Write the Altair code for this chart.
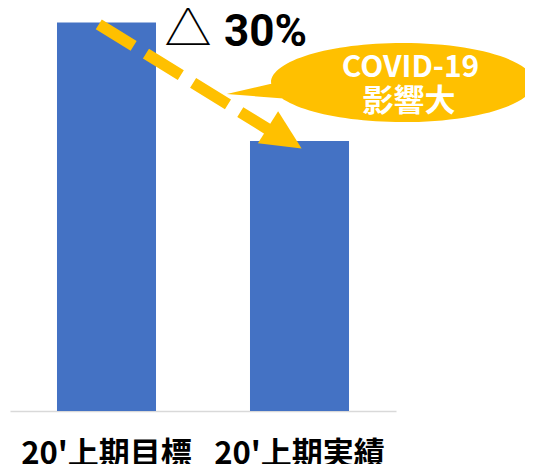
import altair as alt
import pandas as pd

# --- data ---
categories = ["20'上期目標", "20'上期実績"]
values = [100, 69.5]

# annotation anchor points (x in category-position units 0..2, y in value units)
arrow_x = [0.460, 1.337]
arrow_y = [99.5, 72.5]
head_x = [1.424]
head_y = [70.3]
callout_x = [2.034]
callout_y = [84.5]
tri_label = ["△"]
tri_x = [0.922]
tri_y = [97.8]
pct_label = ["30%"]
pct_x = [1.109]
pct_y = [93.9]
covid_lines = ["COVID-19", "影響大"]
covid_x = [2.075, 2.067]
covid_y = [85.9, 79.4]

W, H = 386, 403
YDOM = [0, 103.7]
XQ = alt.Scale(domain=[0, 2], nice=False, zero=False)
YQ = alt.Scale(domain=YDOM, nice=False, zero=True)

YELLOW = "#FFC000"
BLUE = "#4472C4"

bars_df = pd.DataFrame({"cat": categories, "val": values})
bars = alt.Chart(bars_df).mark_bar(color=BLUE).encode(
    x=alt.X("cat:N", sort=categories, title=None,
            scale=alt.Scale(paddingInner=0.487, paddingOuter=0.2435),
            axis=alt.Axis(labelAngle=0, ticks=False, domainColor="#d9d9d9",
                          domainWidth=1.6, labelFont="Noto Sans CJK JP",
                          labelFontSize=31, labelFontWeight="bold",
                          labelColor="#000000", labelPadding=28,
                          labelLimit=400, grid=False)),
    y=alt.Y("val:Q", scale=YQ, axis=None),
)

arrow_df = pd.DataFrame({"x": arrow_x, "y": arrow_y, "o": [0, 1]})
arrow = alt.Chart(arrow_df).mark_line(
    color=YELLOW, strokeWidth=11.5, strokeDash=[41, 14.5], strokeCap="butt"
).encode(
    x=alt.X("x:Q", scale=XQ, axis=None),
    y=alt.Y("y:Q", scale=YQ, axis=None),
    order="o:Q",
)

head_df = pd.DataFrame({"x": head_x, "y": head_y})
head = alt.Chart(head_df).mark_point(
    shape="M 1 0 L -1 -0.95 L -1 0.95 Z", size=1584, angle=32.3,
    filled=True, fill=YELLOW, fillOpacity=1, strokeWidth=0, opacity=1
).encode(
    x=alt.X("x:Q", scale=XQ, axis=None),
    y=alt.Y("y:Q", scale=YQ, axis=None),
)

ELLIPSE = ("M -1 0 C -1 -0.1659 -0.5523 -0.3004 0 -0.3004 "
           "C 0.5523 -0.3004 1 -0.1659 1 0 "
           "C 1 0.1659 0.5523 0.3004 0 0.3004 "
           "C -0.5523 0.3004 -1 0.1659 -1 0 Z "
           "M -1.337 0.087 L -0.95 -0.002 L -0.88 0.122 Z")
callout_df = pd.DataFrame({"x": callout_x, "y": callout_y})
callout = alt.Chart(callout_df).mark_point(
    shape=ELLIPSE, size=263 * 263, filled=True, fill=YELLOW,
    fillOpacity=1, strokeWidth=0, opacity=1
).encode(
    x=alt.X("x:Q", scale=XQ, axis=None),
    y=alt.Y("y:Q", scale=YQ, axis=None),
)

tri_df = pd.DataFrame({"x": tri_x, "y": tri_y, "t": tri_label})
tri = alt.Chart(tri_df).mark_text(
    font="Noto Sans CJK JP", fontSize=47, color="#000000",
    align="center", baseline="middle"
).encode(
    x=alt.X("x:Q", scale=XQ, axis=None),
    y=alt.Y("y:Q", scale=YQ, axis=None),
    text="t:N",
)

pct_df = pd.DataFrame({"x": pct_x, "y": pct_y, "t": pct_label})
pct = alt.Chart(pct_df).mark_text(
    font="Roboto", fontSize=44, fontWeight="bold", color="#000000",
    align="left", baseline="alphabetic"
).encode(
    x=alt.X("x:Q", scale=XQ, axis=None),
    y=alt.Y("y:Q", scale=YQ, axis=None),
    text="t:N",
)

covid1_df = pd.DataFrame({"x": covid_x[:1], "y": covid_y[:1], "t": covid_lines[:1]})
covid1 = alt.Chart(covid1_df).mark_text(
    font="Noto Sans CJK JP", fontSize=30, fontWeight="bold", color="#FFFFFF",
    align="center", baseline="alphabetic"
).encode(
    x=alt.X("x:Q", scale=XQ, axis=None),
    y=alt.Y("y:Q", scale=YQ, axis=None),
    text="t:N",
)
covid2_df = pd.DataFrame({"x": covid_x[1:], "y": covid_y[1:], "t": covid_lines[1:]})
covid2 = alt.Chart(covid2_df).mark_text(
    font="Noto Sans CJK JP", fontSize=31, fontWeight="bold", color="#FFFFFF",
    align="center", baseline="middle"
).encode(
    x=alt.X("x:Q", scale=XQ, axis=None),
    y=alt.Y("y:Q", scale=YQ, axis=None),
    text="t:N",
)

chart = alt.layer(bars, arrow, head, callout, tri, pct, covid1, covid2).resolve_scale(
    x="independent"
).properties(
    width=W, height=H,
    autosize=alt.AutoSizeParams(type="none"),
    padding={"left": 2, "top": 0, "right": 129, "bottom": 53},
).configure_view(stroke=None)

chart.save("out.html", embed_options={"renderer": "svg", "actions": False})
